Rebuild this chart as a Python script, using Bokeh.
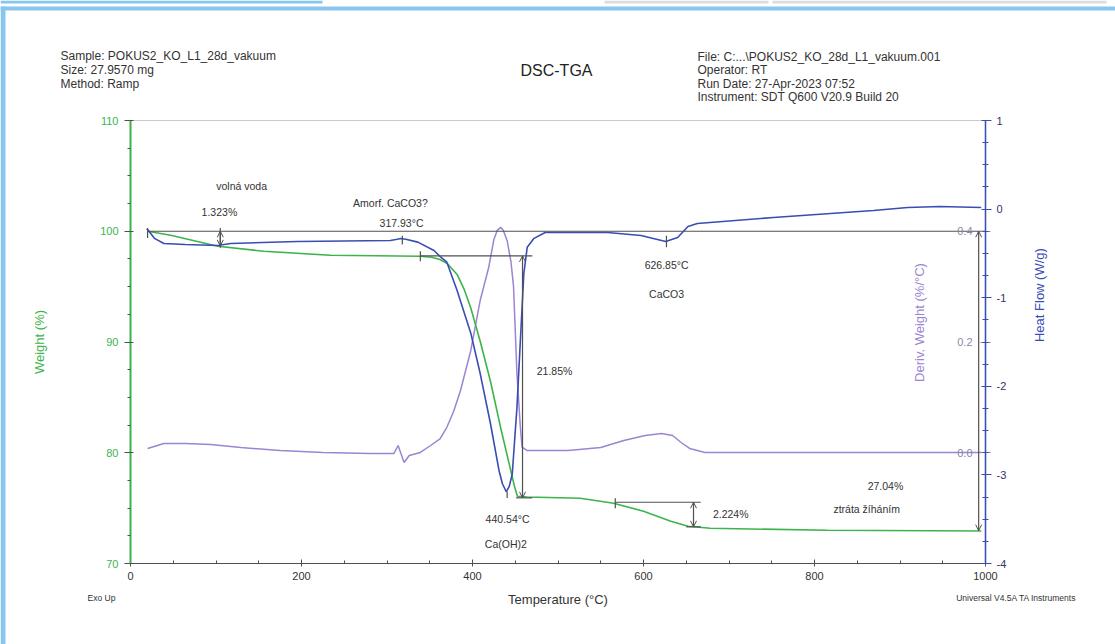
import math
from bokeh.plotting import figure
from bokeh.models import (Range1d, LinearAxis, SingleIntervalTicker, FixedTicker,
                          Label, Arrow, OpenHead, ColumnDataSource, BoxAnnotation,
                          PrintfTickFormatter)
from bokeh.embed import file_html
from bokeh.resources import INLINE

# ---------------- data ----------------
temp_w = [20, 47, 102, 156, 234, 312, 339, 352, 362, 371, 382, 390, 398, 409, 421,
          433, 444, 449, 452.5, 464, 526, 565, 600, 632, 652, 678, 815, 995]
weight = [100.0, 99.64, 98.65, 98.19, 97.83, 97.76, 97.74, 97.65, 97.45, 97.05, 96.1,
          94.8, 93.07, 90.07, 86.46, 82.24, 78.63, 77.0, 76.07, 76.0, 75.89, 75.44,
          74.72, 73.81, 73.36, 73.18, 73.00, 72.93]

temp_hf = [19, 28, 39, 64, 102, 117, 195, 304, 312, 316, 322, 336, 355, 363, 370,
           382, 398, 409, 421, 431, 435, 439.5, 443, 446.5, 452, 456, 460, 464, 472,
           485, 558, 597, 626, 640, 652, 663, 752, 869, 909, 947, 995]
heat_flow = [-0.22, -0.33, -0.388, -0.40, -0.411, -0.388, -0.366, -0.354, -0.34,
             -0.332, -0.34, -0.373, -0.467, -0.543, -0.599, -0.919, -1.40, -1.856,
             -2.42, -2.95, -3.10, -3.19, -3.13, -2.99, -2.236, -1.483, -0.73, -0.43,
             -0.33, -0.264, -0.264, -0.298, -0.366, -0.321, -0.196, -0.163, -0.095,
             -0.016, 0.018, 0.029, 0.018]

temp_d = [20, 39, 64, 94, 129, 175, 225, 281, 308, 313, 320, 326, 339, 351, 362,
          370, 378, 386, 398, 409, 419, 425, 429, 433, 436, 440.5, 445, 448, 452,
          456, 458, 464, 512, 550, 577, 602, 621, 634, 644, 654, 672, 784, 995]
deriv = [0.0077, 0.0167, 0.0167, 0.0149, 0.0095, 0.0041, 0.0005, -0.0014, -0.0014,
         0.0131, -0.0176, -0.005, 0.0005, 0.0131, 0.025, 0.046, 0.075, 0.1124,
         0.1847, 0.275, 0.335, 0.385, 0.402, 0.407, 0.402, 0.383, 0.345, 0.30,
         0.1426, 0.046, 0.010, 0.004, 0.0041, 0.0095, 0.0221, 0.0312, 0.0348,
         0.0312, 0.0185, 0.0077, 0.0005, 0.0005, 0.0005]

# step annotations (weight scale)
seg_x0 = [20, 20, 105, 339, 339, 451, 567, 567, 650]
seg_x1 = [1000, 20, 105, 470, 339, 470, 667, 567, 667]
seg_y0 = [100.0, 100.3, 100.3, 97.78, 98.2, 75.93, 75.53, 75.9, 73.31]
seg_y1 = [100.0, 99.4, 98.5, 97.78, 97.3, 75.93, 75.53, 75.0, 73.31]

arr_x = [105, 458.5, 658.5, 992]
arr_y0 = [100.0, 97.78, 75.53, 100.0]
arr_y1 = [98.677, 75.93, 73.31, 72.96]

# peak markers (heat-flow scale)
pk_x = [317.93, 626.85, 440.54]
pk_y0 = [-0.30, -0.30, -3.19]
pk_y1 = [-0.40, -0.43, -3.26]

ann_text = ["volná voda", "1.323%", "Amorf. CaCO3?", "317.93°C", "626.85°C", "CaCO3",
            "21.85%", "440.54°C", "Ca(OH)2", "2.224%", "27.04%", "ztráta žíháním"]
ann_x = [130, 104, 304, 317, 627, 627, 496, 441, 439, 702, 883, 861]
ann_y = [104.06, 101.72, 102.53, 100.72, 96.93, 94.31, 87.36, 74.0, 71.74, 74.45,
         76.98, 74.9]

head_left = ["Sample: POKUS2_KO_L1_28d_vakuum", "Size:  27.9570 mg", "Method: Ramp"]
head_right = ["File: C:...\\POKUS2_KO_28d_L1_vakuum.001", "Operator: RT",
              "Run Date: 27-Apr-2023 07:52", "Instrument: SDT Q600 V20.9 Build 20"]

T_RANGE = (0, 1000)
W_RANGE = (70, 110)
HF_RANGE = (-4, 1)
DW_RANGE = (-0.2, 0.6)

# ---------------- layout ----------------
CW, CH = 1115, 644          # canvas
BX0, BX1 = 130, 985         # chart box, px
BY0, BY1 = 120, 563

GREEN = "#3cb44b"
BLUE = "#3a4db3"
PURPLE = "#9b85d2"
GREY = "#505050"
PAGE_BLUE = "#88c6ee"
PAGE_GREY = "#dcdcdc"
FONT = "Liberation Sans"


def xr(lo, hi):
    s = (BX1 - BX0) / (hi - lo)
    return Range1d(lo - BX0 / s, hi + (CW - BX1) / s)


def yr(lo, hi):
    s = (BY1 - BY0) / (hi - lo)
    return Range1d(lo - (CH - BY1) / s, hi + BY0 / s)


p = figure(width=CW, height=CH, output_backend="svg", toolbar_location=None,
           x_range=xr(*T_RANGE), y_range=yr(*W_RANGE), min_border=0)
p.xgrid.visible = False
p.ygrid.visible = False
p.outline_line_color = None
p.background_fill_color = "white"
p.border_fill_color = "white"
p.extra_y_ranges = {"hf": yr(*HF_RANGE), "dw": yr(*DW_RANGE)}


def page_box(x0, x1, y0, y1, color):
    p.add_layout(BoxAnnotation(left=x0, right=x1, top=CH - y0, bottom=CH - y1,
                               left_units="screen", right_units="screen",
                               top_units="screen", bottom_units="screen",
                               fill_color=color, fill_alpha=1, line_color=None,
                               level="underlay"))


# page frame of the scanned document
page_box(0, 322, 0, 3, PAGE_BLUE)
page_box(604, 768, 0, 3, PAGE_GREY)
page_box(772, 1106, 0, 3, PAGE_GREY)
page_box(0, CW, 6, 10, PAGE_BLUE)
page_box(0, 5, 6, CH, PAGE_BLUE)

p.add_layout(BoxAnnotation(left=T_RANGE[0], right=T_RANGE[1], bottom=W_RANGE[0],
                           top=W_RANGE[1], fill_color=None, line_color=GREY,
                           line_width=1.2, level="underlay"))

# x axis
xa = p.xaxis[0]
xa.fixed_location = W_RANGE[0]
xa.bounds = T_RANGE
xa.ticker = SingleIntervalTicker(interval=200, num_minor_ticks=4)
xa.axis_label = "Temperature (°C)"
xa.axis_label_text_font = FONT
xa.axis_label_text_font_style = "normal"
xa.axis_label_text_font_size = "13px"
xa.axis_label_text_color = "#333333"
xa.axis_label_standoff = 9
xa.major_label_text_font = FONT
xa.major_label_text_font_size = "11px"
xa.major_label_text_color = "#333333"
xa.major_label_standoff = 5
xa.axis_line_color = GREY
xa.major_tick_line_color = GREY
xa.minor_tick_line_color = GREY
xa.major_tick_in = 4
xa.major_tick_out = 3
xa.minor_tick_in = 3
xa.minor_tick_out = 0

# weight axis (left)
ya = p.yaxis[0]
ya.fixed_location = T_RANGE[0]
ya.bounds = W_RANGE
ya.ticker = SingleIntervalTicker(interval=10, num_minor_ticks=4)
ya.axis_label = "Weight (%)"
ya.axis_label_text_font = FONT
ya.axis_label_text_font_style = "normal"
ya.axis_label_text_font_size = "13px"
ya.axis_label_text_color = GREEN
ya.axis_label_standoff = 50
ya.major_label_text_font = FONT
ya.major_label_text_font_size = "11px"
ya.major_label_text_color = GREEN
ya.major_label_standoff = 6
ya.axis_line_color = GREEN
ya.axis_line_width = 2
ya.major_tick_line_color = GREY
ya.minor_tick_line_color = GREY
ya.major_tick_in = 3
ya.major_tick_out = 6
ya.minor_tick_in = 0
ya.minor_tick_out = 3

# heat flow axis (right)
ha = LinearAxis(y_range_name="hf", fixed_location=T_RANGE[1], bounds=HF_RANGE,
                ticker=SingleIntervalTicker(interval=1, num_minor_ticks=4),
                formatter=PrintfTickFormatter(format="%d"))
ha.axis_label = "Heat Flow (W/g)"
ha.axis_label_orientation = math.pi / 2
ha.axis_label_text_font = FONT
ha.axis_label_text_font_style = "normal"
ha.axis_label_text_font_size = "13px"
ha.axis_label_text_color = BLUE
ha.axis_label_standoff = 30
ha.major_label_text_font = FONT
ha.major_label_text_font_size = "11px"
ha.major_label_text_color = "#333366"
ha.major_label_standoff = 5
ha.axis_line_color = BLUE
ha.axis_line_width = 1.5
ha.major_tick_line_color = BLUE
ha.minor_tick_line_color = BLUE
ha.major_tick_in = 4
ha.major_tick_out = 6
ha.minor_tick_in = 3
ha.minor_tick_out = 3
p.add_layout(ha, "right")

# derivative weight axis drawn inside the box at the right edge
da = LinearAxis(y_range_name="dw", fixed_location=T_RANGE[1],
                ticker=FixedTicker(ticks=[0.0, 0.2, 0.4], minor_ticks=[]),
                formatter=PrintfTickFormatter(format="%.1f"))
da.axis_label = "Deriv. Weight (%/°C)"
da.axis_label_text_font = FONT
da.axis_label_text_font_style = "normal"
da.axis_label_text_font_size = "13px"
da.axis_label_text_color = PURPLE
da.axis_label_standoff = 27
da.major_label_text_font = FONT
da.major_label_text_font_size = "11px"
da.major_label_text_color = "#8f86a8"
da.major_label_standoff = 8
da.axis_line_color = None
da.major_tick_line_color = "#8f86a8"
da.major_tick_in = 5
da.major_tick_out = 5
p.add_layout(da, "left")

# curves
p.line(temp_d, deriv, y_range_name="dw", line_color=PURPLE, line_width=1.5)
p.line(temp_w, weight, line_color=GREEN, line_width=1.6)
p.line(temp_hf, heat_flow, y_range_name="hf", line_color=BLUE, line_width=1.6)

# step annotation lines
p.segment(seg_x0, seg_y0, seg_x1, seg_y1, line_color=GREY, line_width=1.2)
p.segment(pk_x, pk_y0, pk_x, pk_y1, y_range_name="hf", line_color=GREY, line_width=1.2)
asrc = ColumnDataSource(dict(x=arr_x, y0=arr_y0, y1=arr_y1))
p.add_layout(Arrow(start=OpenHead(size=6, line_color=GREY, line_width=1),
                   end=OpenHead(size=6, line_color=GREY, line_width=1),
                   x_start="x", y_start="y0", x_end="x", y_end="y1", source=asrc,
                   line_color=GREY, line_width=1.2))

for t, x, y in zip(ann_text, ann_x, ann_y):
    p.add_layout(Label(x=x, y=y, text=t, text_align="center", text_baseline="middle",
                       text_font=FONT, text_font_size="10.5px", text_color="#333333"))


def screen_label(text, x, y, align="left", size="12px", color="#333333"):
    p.add_layout(Label(x=x, y=CH - y, x_units="screen", y_units="screen", text=text,
                       text_align=align, text_baseline="middle", text_font=FONT,
                       text_font_size=size, text_color=color))


for t, y in zip(head_left, [55, 69, 83]):
    screen_label(t, 60, y)
for t, y in zip(head_right, [56, 69, 83, 96]):
    screen_label(t, 697, y)
screen_label("DSC-TGA", 556, 70, align="center", size="16px", color="#222222")
screen_label("Exo Up", 87, 597, size="8.5px")
screen_label("Universal V4.5A TA Instruments", 1076, 597, align="right", size="8.5px")

open("out.html", "w").write(file_html(p, INLINE))
